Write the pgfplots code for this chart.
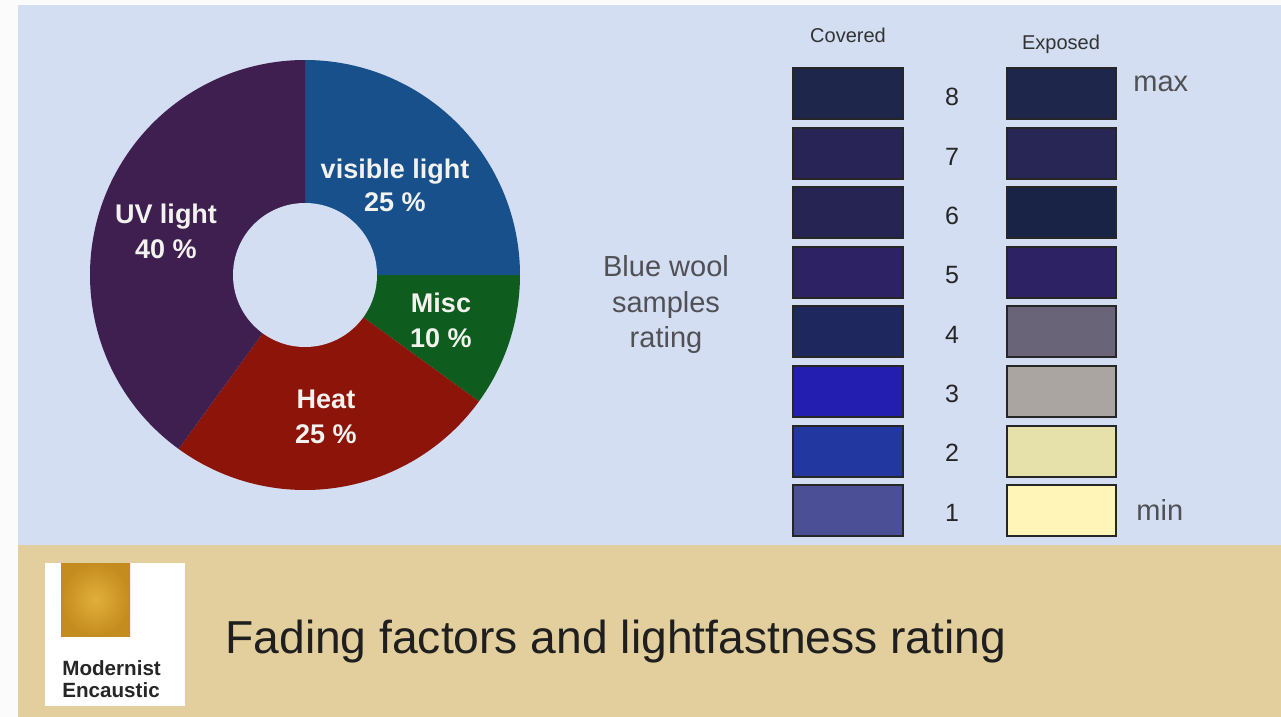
\documentclass[border=0pt]{standalone}
\usepackage{pgfplots}
\pgfplotsset{compat=1.18}
\usepackage{fontspec}
\setmainfont{Liberation Sans}

\definecolor{bgblue}{RGB}{211,222,242}
\definecolor{tanband}{RGB}{227,207,158}
\definecolor{uvc}{RGB}{62,31,80}
\definecolor{visc}{RGB}{24,80,140}
\definecolor{miscc}{RGB}{14,92,30}
\definecolor{heatc}{RGB}{140,20,8}
\definecolor{lbl}{RGB}{242,242,238}
\definecolor{graytxt}{RGB}{80,80,85}
\definecolor{gold}{RGB}{196,140,30}
\definecolor{goldl}{RGB}{225,175,60}
% covered swatches 1..8
\definecolor{cov1}{RGB}{75,80,150}
\definecolor{cov2}{RGB}{35,55,160}
\definecolor{cov3}{RGB}{35,30,175}
\definecolor{cov4}{RGB}{30,40,95}
\definecolor{cov5}{RGB}{45,35,100}
\definecolor{cov6}{RGB}{38,36,82}
\definecolor{cov7}{RGB}{40,36,85}
\definecolor{cov8}{RGB}{30,38,75}
% exposed swatches 1..8
\definecolor{exp1}{RGB}{255,245,185}
\definecolor{exp2}{RGB}{230,225,170}
\definecolor{exp3}{RGB}{170,165,160}
\definecolor{exp4}{RGB}{105,100,120}
\definecolor{exp5}{RGB}{45,35,100}
\definecolor{exp6}{RGB}{25,35,70}
\definecolor{exp7}{RGB}{40,38,85}
\definecolor{exp8}{RGB}{30,38,75}

% pie slice: #1 cumulative pct before, #2 pct, #3 colour
\newcommand\slice[3]{%
  \fill[#3] (axis cs:305,275) -- ++({90-3.6*#1}:107.5pt)
    arc[start angle={90-3.6*#1}, delta angle={-3.6*#2}, radius=107.5pt] -- cycle;}

\begin{document}
\begin{tikzpicture}
\begin{axis}[
  scale only axis, width=640.5pt, height=358.5pt,
  xmin=0, xmax=1281, ymin=0, ymax=717, y dir=reverse,
  hide axis, clip=false]
% backgrounds
\fill[white!97!gray] (axis cs:0,0) rectangle (axis cs:1281,717);
\fill[bgblue] (axis cs:18,5) rectangle (axis cs:1281,545);
\fill[tanband] (axis cs:18,545) rectangle (axis cs:1281,717);
% donut: visible 25, misc 10, heat 25, UV 40
\slice{0}{25}{visc}
\slice{25}{10}{miscc}
\slice{35}{25}{heatc}
\slice{60}{40}{uvc}
\fill[bgblue] (axis cs:305,275) circle[radius=36pt];
% pie labels
\begin{scope}[every node/.style={text=lbl, font=\bfseries\fontsize{13.5}{16}\selectfont, anchor=base}]
\node at (axis cs:395,178) {visible light};
\node at (axis cs:395,212) {25 \%};
\node at (axis cs:166,223) {UV light};
\node at (axis cs:166,258) {40 \%};
\node at (axis cs:441,313) {Misc};
\node at (axis cs:441,347) {10 \%};
\node at (axis cs:326,408) {Heat};
\node at (axis cs:326,443) {25 \%};
\end{scope}
% blue wool text
\begin{scope}[every node/.style={text=graytxt, font=\fontsize{14.5}{17}\selectfont, anchor=base}]
\node at (axis cs:666,277) {Blue wool};
\node at (axis cs:666,313) {samples};
\node at (axis cs:666,347) {rating};
\end{scope}
\node[anchor=base, text=black!80, font=\fontsize{10}{12}\selectfont] at (axis cs:848,43) {Covered};
\node[anchor=base, text=black!80, font=\fontsize{10}{12}\selectfont] at (axis cs:1061,50) {Exposed};
\node[anchor=base west, inner sep=0pt, text=graytxt, font=\fontsize{14.5}{17}\selectfont] at (axis cs:1133,92) {max};
\node[anchor=base west, inner sep=0pt, text=graytxt, font=\fontsize{14.5}{17}\selectfont] at (axis cs:1136,520) {min};
% swatches
\pgfplotsinvokeforeach{1,...,8}{
  \filldraw[fill=cov#1, draw=black!85, line width=1pt]
    (axis cs:793,{68+(8-#1)*59.6}) rectangle (axis cs:903,{119+(8-#1)*59.6});
  \filldraw[fill=exp#1, draw=black!85, line width=1pt]
    (axis cs:1007,{68+(8-#1)*59.6}) rectangle (axis cs:1116,{119+(8-#1)*59.6});
  \node[anchor=base, text=black!85, font=\fontsize{12.5}{15}\selectfont] at (axis cs:952,{106+(8-#1)*59.3}) {#1};
}
% logo
\fill[white] (axis cs:45,563) rectangle (axis cs:185,706);
\shade[inner color=goldl, outer color=gold] (axis cs:61,563) rectangle (axis cs:130,636);
\node[anchor=base west, inner sep=0pt, text=black!85, font=\bfseries\fontsize{10.3}{12}\selectfont] at (axis cs:62,675) {Modernist};
\node[anchor=base west, inner sep=0pt, text=black!85, font=\bfseries\fontsize{10.3}{12}\selectfont] at (axis cs:62,697) {Encaustic};
% title
\node[anchor=base west, inner sep=0pt, text=black!88, font=\fontsize{23.1}{28}\selectfont] at (axis cs:225,653) {Fading factors and lightfastness rating};
\end{axis}
\end{tikzpicture}
\end{document}
